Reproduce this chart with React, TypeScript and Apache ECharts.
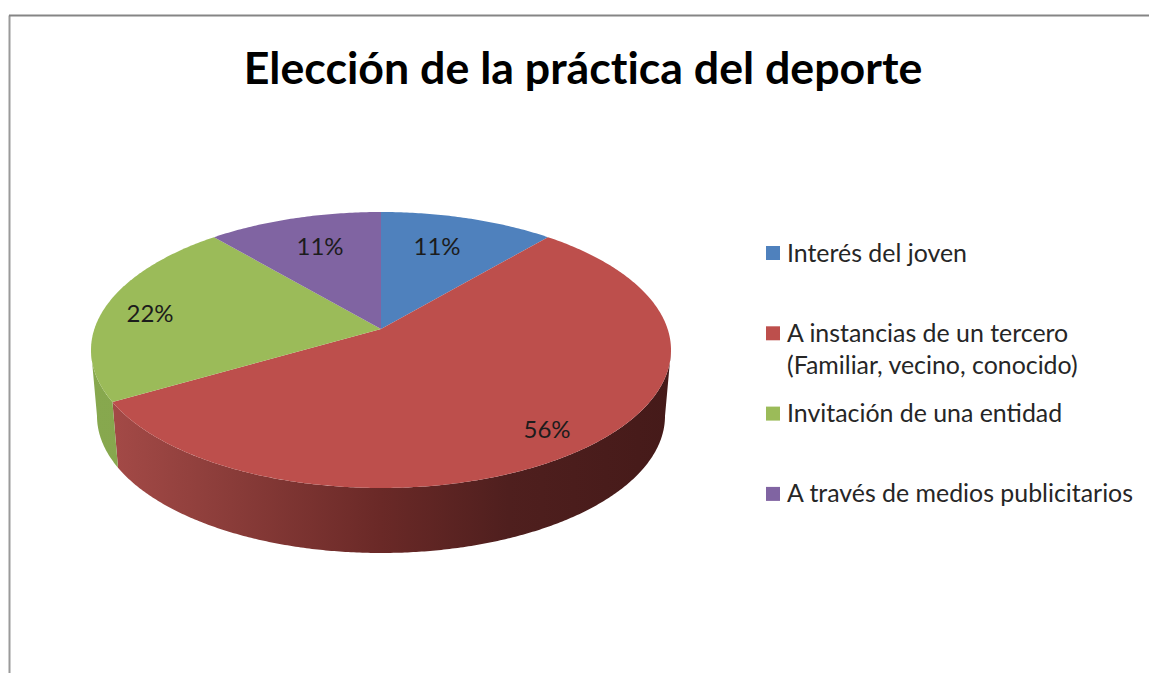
import React, { useEffect, useRef } from "react";
import * as echarts from "echarts";

const titleText = "Elección de la práctica del deporte";
const categories = [
  "Interés del joven",
  "A instancias de un tercero\n(Familiar, vecino, conocido)",
  "Invitación de una entidad",
  "A través de medios publicitarios",
];
const shares = [11, 56, 22, 11];
const faceColors = ["#4f81bd", "#bd4f4c", "#9bbb59", "#8064a2"];
const FONT = "Lato";

const apex = { x: 381, y: 329 };
const topRim = { cx: 381, cy: 350, rx: 290, ry: 138 };
const bottomRim = { cx: 381, cy: 416, rx: 284, ry: 137 };
const PERSPECTIVE = 0.064;
const labelCentres = [
  [437, 245],
  [547, 428],
  [150, 312],
  [320, 245],
];
const wallStops: Record<number, [number, string][]> = {
  1: [
    [0, "#a84c49"],
    [0.2, "#8f3f3c"],
    [0.5, "#6a2927"],
    [0.72, "#4f1f1e"],
    [1, "#451a19"],
  ],
  2: [
    [0, "#87a84e"],
    [1, "#7f9c48"],
  ],
};

// Turns a share of the circle (clockwise from the top) into the rim angle seen in perspective.
function rimAngle(fraction: number) {
  const th = Math.PI / 2 - fraction * 2 * Math.PI;
  const zr = Math.cos(th);
  const zi = Math.sin(th);
  const nr = zr;
  const ni = zi + PERSPECTIVE;
  const dr = 1 + PERSPECTIVE * zi;
  const di = -PERSPECTIVE * zr;
  const arg = Math.atan2(ni, nr) - Math.atan2(di, dr);
  let t = Math.PI / 2 - arg;
  while (t < 0) t += 2 * Math.PI;
  while (t > 2 * Math.PI) t -= 2 * Math.PI;
  if (fraction >= 1) t = 2 * Math.PI;
  if (fraction <= 0) t = 0;
  return t;
}

function rimPoint(r: typeof topRim, t: number): number[] {
  return [r.cx + r.rx * Math.sin(t), r.cy - r.ry * Math.cos(t)];
}

function arc(r: typeof topRim, a: number, b: number) {
  const n = Math.max(2, Math.ceil(Math.abs(b - a) / 0.01));
  const pts: number[][] = [];
  for (let i = 0; i <= n; i++) pts.push(rimPoint(r, a + ((b - a) * i) / n));
  return pts;
}

const renderSlice = (params: any, api: any) => {
  const i = params.dataIndex;
  const total = shares.reduce((s, v) => s + v, 0);
  const before = shares.slice(0, i).reduce((s, v) => s + v, 0);
  const value = api.value(0);
  const a = rimAngle(before / total);
  const b = rimAngle((before + value) / total);
  const children: any[] = [];
  const wa = Math.max(a, Math.PI / 2);
  const wb = Math.min(b, (3 * Math.PI) / 2);
  if (wb > wa) {
    children.push({
      type: "polygon",
      shape: { points: [...arc(topRim, wa, wb), ...arc(bottomRim, wb, wa)] },
      style: {
        fill: new echarts.graphic.LinearGradient(
          topRim.cx + topRim.rx,
          0,
          topRim.cx - topRim.rx,
          0,
          [...(wallStops[i] || [[0, faceColors[i]], [1, faceColors[i]]])]
            .map(([o, color]) => ({ offset: 1 - o, color }))
            .reverse(),
          true
        ),
      },
    });
  }
  children.push({
    type: "polygon",
    shape: { points: [[apex.x, apex.y], ...arc(topRim, a, b)] },
    style: { fill: faceColors[i] },
  });
  children.push({
    type: "text",
    x: labelCentres[i][0],
    y: labelCentres[i][1],
    style: {
      text: `${value}%`,
      fill: "#1c1c1c",
      font: `400 24px ${FONT}`,
      align: "center",
      verticalAlign: "middle",
    },
  });
  return { type: "group", children };
};

const legendRows = categories.flatMap((name, i) => [
  {
    type: "rect",
    shape: { x: 766, y: 246 + i * 80.3, width: 14, height: 14 },
    style: { fill: faceColors[i] },
  },
  {
    type: "text",
    x: 787,
    y: 235.5 + i * 80.3,
    style: {
      text: name,
      fill: "#262626",
      font: `400 24.9px ${FONT}`,
      lineHeight: 32,
      align: "left",
      verticalAlign: "top",
    },
  },
]);

const frame = [
  {
    type: "line",
    shape: { x1: 9.5, y1: 15.5, x2: 9.5, y2: 673 },
    style: { stroke: "#9a9a9a", lineWidth: 2 },
  },
  {
    type: "line",
    shape: { x1: 9, y1: 15.5, x2: 1149, y2: 15.5 },
    style: { stroke: "#858585", lineWidth: 2 },
  },
];

export default function App() {
  const ref = useRef<HTMLDivElement>(null);
  useEffect(() => {
    if (!ref.current) return;
    const chart = echarts.init(ref.current, undefined, { renderer: "svg" });
    chart.setOption({
      animation: false,
      backgroundColor: "#ffffff",
      title: {
        text: titleText,
        left: 578,
        top: 39,
        textAlign: "center",
        textStyle: { fontFamily: FONT, fontWeight: 700, fontSize: 44.7, color: "#000000" },
      },
      graphic: [...frame, ...legendRows],
      series: [
        {
          type: "custom",
          coordinateSystem: "none",
          renderItem: renderSlice,
          data: shares.map((v, i) => ({ name: categories[i], value: [v] })),
          silent: true,
        },
      ],
    });
    return () => chart.dispose();
  }, []);
  return (
    <div
      ref={ref}
      style={{
        position: "fixed",
        left: 0,
        top: 0,
        width: 1149,
        height: 673,
        fontVariantLigatures: "none",
      }}
    />
  );
}
